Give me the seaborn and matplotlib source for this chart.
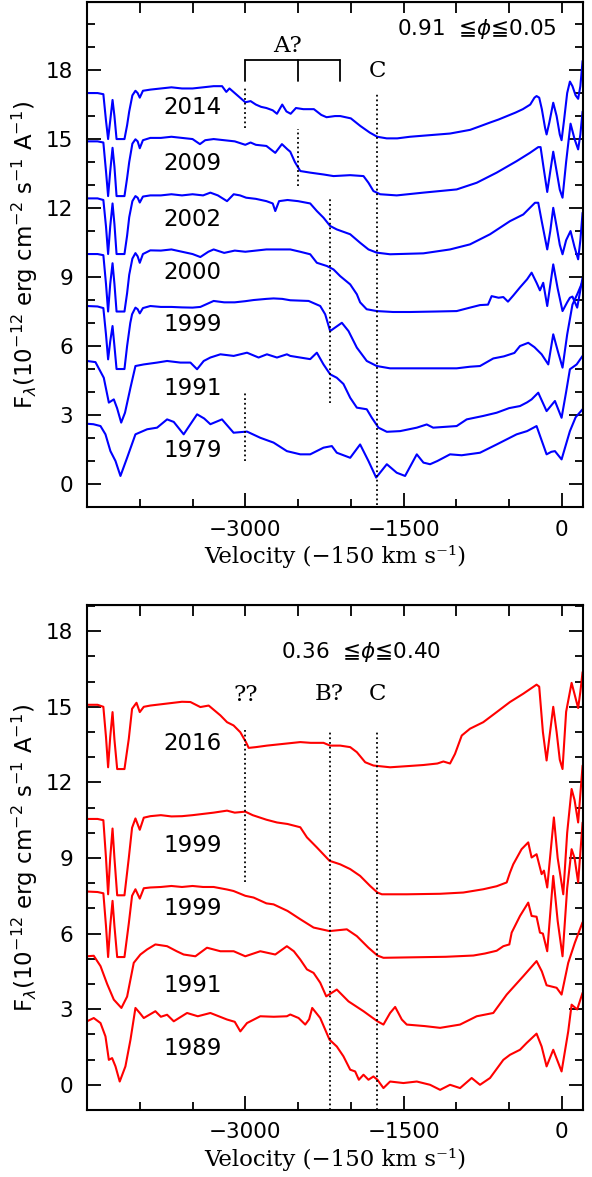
import numpy as np
import matplotlib
matplotlib.use('Agg')
import matplotlib.pyplot as plt
import seaborn as sns
from matplotlib.ticker import MultipleLocator, FixedLocator

sns.set_style('ticks')
plt.rcParams['font.family'] = ['DejaVu Sans']
plt.rcParams['mathtext.fontset'] = 'dejavusans'
for k in ['text.color', 'axes.labelcolor', 'xtick.color', 'ytick.color', 'axes.edgecolor']:
    plt.rcParams[k] = 'black'

# ---------------- data: top panel (0.91 <= phi <= 0.05) ----------------
top_2014 = [(-4500,17.0),(-4400,17.0),(-4345,16.95),(-4320,15.8),(-4300,15.0),(-4280,15.8),(-4258,16.7),(-4240,16.0),
            (-4220,15.0),(-4145,15.0),(-4120,15.6),(-4100,16.2),(-4070,16.9),(-4041,17.1),(-4020,17.0),(-4000,16.8),
            (-3970,17.1),(-3900,17.15),(-3800,17.2),(-3700,17.25),(-3600,17.2),(-3500,17.2),(-3400,17.25),(-3300,17.3),
            (-3220,17.3),(-3180,17.05),(-3150,17.2),(-3100,17.0),(-3050,16.8),(-3000,16.6),(-2950,16.65),(-2900,16.5),
            (-2850,16.4),(-2800,16.35),(-2740,16.25),(-2700,16.1),(-2650,16.5),(-2610,16.2),(-2570,16.1),(-2520,16.35),
            (-2450,16.3),(-2350,16.3),(-2280,16.05),(-2230,15.95),(-2150,16.0),(-2100,16.0),(-2050,15.95),(-2000,15.9),
            (-1910,15.57),(-1820,15.28),(-1750,15.1),(-1660,15.03),(-1560,15.03),(-1440,15.1),(-1250,15.17),(-1060,15.24),
            (-870,15.4),(-780,15.55),(-680,15.72),(-600,15.85),(-520,16.0),(-440,16.15),(-370,16.3),(-300,16.5),
            (-260,16.8),(-240,16.87),(-215,16.8),(-190,16.3),(-160,15.5),(-145,15.2),(-120,15.7),(-82,16.58),
            (-50,16.0),(-20,15.2),(-3,14.95),(20,15.8),(50,17.0),(76,17.5),(100,17.3),(130,16.9),(154,16.75),
            (175,17.3),(196,18.4)]
top_2009 = [(-4500,14.9),(-4400,14.9),(-4345,14.85),(-4320,13.6),(-4300,12.52),(-4280,13.6),(-4258,14.62),(-4240,13.8),
            (-4220,12.52),(-4145,12.52),(-4120,13.3),(-4100,14.0),(-4070,14.8),(-4041,14.99),(-4020,14.9),(-4000,14.6),
            (-3970,14.95),(-3900,15.05),(-3800,15.05),(-3700,15.1),(-3600,15.05),(-3500,15.0),(-3430,14.78),(-3380,14.95),
            (-3300,15.0),(-3200,14.95),(-3100,14.9),(-3000,14.75),(-2950,14.85),(-2900,14.75),(-2800,14.7),(-2716,14.4),
            (-2653,14.78),(-2600,14.55),(-2574,14.45),(-2530,14.0),(-2479,13.61),(-2385,13.54),(-2259,13.46),(-2164,13.39),
            (-2006,13.43),(-1880,13.39),(-1833,13.1),(-1786,12.74),(-1722,12.6),(-1565,12.55),(-1313,12.67),(-997,12.81),
            (-807,13.1),(-618,13.54),(-429,14.04),(-303,14.4),(-224,14.65),(-202,14.65),(-175,13.8),(-139,12.7),
            (-110,13.6),(-82,14.45),(-50,13.6),(-20,12.8),(6,12.45),(40,14.0),(82,15.67),(120,15.0),(154,14.55),
            (175,15.2),(196,16.2)]
top_2002 = [(-4500,12.42),(-4400,12.42),(-4345,12.35),(-4320,11.2),(-4300,10.0),(-4280,11.2),(-4258,12.2),(-4240,11.3),
            (-4220,10.0),(-4145,10.0),(-4120,10.8),(-4100,11.6),(-4070,12.3),(-4041,12.52),(-4020,12.45),(-4000,12.24),
            (-3970,12.5),(-3900,12.55),(-3800,12.55),(-3700,12.6),(-3600,12.55),(-3500,12.6),(-3400,12.55),(-3331,12.67),
            (-3260,12.55),(-3173,12.3),(-3110,12.6),(-3050,12.55),(-2992,12.45),(-2900,12.4),(-2800,12.3),(-2740,12.2),
            (-2716,11.87),(-2680,12.3),(-2600,12.35),(-2500,12.3),(-2385,12.2),(-2322,11.87),(-2259,11.58),(-2196,11.22),
            (-2133,11.07),(-2006,10.86),(-1912,10.49),(-1833,10.2),(-1754,10.06),(-1628,9.99),(-1313,10.03),(-1060,10.2),
            (-871,10.42),(-681,10.86),(-492,11.43),(-366,11.72),(-255,12.23),(-224,12.23),(-190,11.4),(-139,10.2),
            (-110,11.0),(-82,12.01),(-50,11.2),(-20,10.4),(6,9.99),(40,10.6),(82,11.0),(120,10.3),(154,9.77),
            (175,10.6),(196,11.8)]
top_2000 = [(-4500,10.0),(-4400,10.0),(-4345,9.95),(-4320,8.7),(-4300,7.5),(-4280,8.7),(-4258,9.6),(-4240,8.7),
            (-4220,7.5),(-4145,7.5),(-4120,8.3),(-4100,9.1),(-4070,9.8),(-4041,10.04),(-4020,9.9),(-4000,9.62),
            (-3970,10.0),(-3900,10.16),(-3800,10.15),(-3700,10.2),(-3600,10.1),(-3500,10.0),(-3426,9.87),(-3350,10.1),
            (-3300,10.2),(-3200,10.05),(-3100,10.15),(-3000,10.1),(-2900,10.15),(-2800,10.2),(-2650,10.2),(-2574,10.2),
            (-2480,10.1),(-2385,9.99),(-2322,9.62),(-2227,9.48),(-2164,9.33),(-2101,9.04),(-2006,8.68),(-1943,8.25),
            (-1912,7.9),(-1850,7.6),(-1754,7.52),(-1600,7.48),(-1438,7.48),(-1200,7.5),(-997,7.52),(-871,7.67),
            (-776,7.78),(-700,7.8),(-666,8.17),(-600,8.1),(-555,8.13),(-511,7.93),(-460,8.2),(-397,8.55),
            (-330,8.9),(-287,9.19),(-240,8.75),(-208,8.42),(-177,8.75),(-139,7.74),(-82,9.55),(-40,8.5),
            (6,7.52),(50,7.9),(76,8.1),(100,8.15),(145,7.67),(196,8.97)]
top_1999 = [(-4500,7.74),(-4400,7.72),(-4345,7.65),(-4320,6.5),(-4300,5.42),(-4280,6.2),(-4258,6.87),(-4240,6.0),
            (-4220,5.0),(-4145,5.0),(-4120,6.0),(-4090,7.0),(-4073,7.38),(-4041,7.67),(-4020,7.6),(-4000,7.42),
            (-3970,7.65),(-3900,7.74),(-3800,7.7),(-3700,7.7),(-3600,7.68),(-3500,7.67),(-3426,7.7),(-3300,7.96),
            (-3200,7.9),(-3100,7.9),(-3000,7.95),(-2921,8.0),(-2800,8.05),(-2732,8.07),(-2650,8.05),(-2574,7.99),
            (-2400,7.96),(-2290,7.74),(-2243,7.38),(-2196,6.65),(-2150,6.8),(-2085,7.01),(-2022,6.65),(-1943,5.93),
            (-1849,5.35),(-1754,5.13),(-1628,5.03),(-1313,5.03),(-997,5.03),(-871,5.1),(-776,5.13),(-650,5.46),
            (-550,5.55),(-450,5.7),(-397,6.0),(-319,6.14),(-260,5.95),(-192,5.64),(-129,5.2),(-82,6.51),
            (-40,5.8),(6,5.06),(50,6.5),(100,7.8),(150,8.3),(196,8.8)]
top_1991 = [(-4500,5.35),(-4420,5.3),(-4341,4.62),(-4293,3.54),(-4246,3.68),(-4215,3.3),(-4176,2.67),(-4140,3.1),
            (-4088,4.19),(-4041,5.13),(-3962,5.2),(-3836,5.28),(-3741,5.35),(-3615,5.28),(-3520,5.28),(-3457,4.99),
            (-3394,5.35),(-3331,5.5),(-3236,5.64),(-3110,5.57),(-2984,5.71),(-2874,5.5),(-2795,5.64),(-2700,5.5),
            (-2606,5.64),(-2574,5.57),(-2480,5.5),(-2385,5.43),(-2322,5.71),(-2259,5.2),(-2196,4.77),(-2133,4.62),
            (-2070,4.35),(-2006,3.75),(-1943,3.32),(-1849,3.25),(-1801,2.88),(-1738,2.45),(-1659,2.27),(-1533,2.3),
            (-1375,2.45),(-1281,2.59),(-1220,2.45),(-997,2.52),(-902,2.81),(-745,2.96),(-618,3.1),(-500,3.3),
            (-397,3.39),(-330,3.55),(-287,3.68),(-224,3.97),(-145,3.17),(-66,3.61),(-3,2.88),(40,4.0),
            (76,4.99),(140,5.2),(196,5.57)]
top_1979 = [(-4500,2.62),(-4440,2.6),(-4372,2.52),(-4325,2.16),(-4278,1.43),(-4230,1.0),(-4183,0.35),(-4120,1.14),
            (-4041,2.16),(-3930,2.38),(-3836,2.45),(-3741,2.81),(-3678,2.7),(-3584,2.16),(-3520,2.6),(-3457,3.03),
            (-3390,2.85),(-3331,2.6),(-3221,2.81),(-3111,2.23),(-2984,2.28),(-2858,2.01),(-2732,1.8),(-2606,1.43),
            (-2479,1.29),(-2385,1.29),(-2259,1.58),(-2180,1.65),(-2133,1.36),(-2006,1.14),(-1912,1.72),(-1833,1.0),
            (-1760,0.28),(-1659,0.86),(-1565,0.49),(-1486,0.35),(-1375,1.29),(-1312,0.93),(-1249,0.86),(-1180,1.0),
            (-1060,1.29),(-950,1.25),(-776,1.36),(-618,1.72),(-429,2.16),(-330,2.3),(-240,2.52),(-200,2.0),
            (-145,1.29),(-100,1.4),(-66,1.43),(-3,1.07),(76,2.3),(130,2.9),(196,3.25)]

top_years = ['2014', '2009', '2002', '2000', '1999', '1991', '1979']
top_year_y = [16.39, 13.94, 11.51, 9.19, 6.94, 4.16, 1.46]
top_spectra = [top_2014, top_2009, top_2002, top_2000, top_1999, top_1991, top_1979]

# ---------------- data: bottom panel (0.36 <= phi <= 0.40) ----------------
bot_2016 = [(-4500,15.08),(-4400,15.08),(-4345,15.0),(-4320,13.8),(-4300,12.6),(-4280,13.8),(-4258,14.79),(-4240,13.7),
            (-4214,12.53),(-4145,12.53),(-4104,13.73),(-4073,14.92),(-4031,15.16),(-4000,14.79),(-3962,15.0),(-3900,15.05),
            (-3800,15.1),(-3700,15.15),(-3600,15.2),(-3520,15.19),(-3426,14.99),(-3347,15.05),(-3236,14.66),(-3173,14.39),
            (-3111,14.26),(-3047,13.99),(-2994,13.6),(-2968,13.37),(-2900,13.4),(-2795,13.46),(-2637,13.53),(-2479,13.6),
            (-2380,13.57),(-2259,13.57),(-2196,13.46),(-2101,13.46),(-2006,13.4),(-1943,13.2),(-1864,12.8),(-1786,12.67),
            (-1628,12.6),(-1450,12.65),(-1313,12.69),(-1180,12.75),(-1123,12.83),(-1060,12.75),(-1013,13.13),(-949,13.86),
            (-871,14.13),(-745,14.39),(-618,14.79),(-492,15.19),(-366,15.52),(-240,15.88),(-215,15.8),(-180,14.0),
            (-145,12.87),(-115,13.9),(-82,15.0),(-50,14.0),(-20,12.9),(6,12.53),(40,14.8),(92,15.95),
            (120,15.5),(154,14.95),(175,15.6),(196,16.38)]
bot_1999a = [(-4500,10.55),(-4400,10.55),(-4345,10.5),(-4320,9.0),(-4300,7.56),(-4280,9.0),(-4258,10.17),(-4240,9.0),
             (-4214,7.52),(-4145,7.52),(-4104,9.0),(-4073,10.2),(-4041,10.57),(-4000,10.12),(-3962,10.6),(-3900,10.66),
             (-3800,10.7),(-3700,10.65),(-3600,10.66),(-3500,10.7),(-3400,10.75),(-3300,10.8),(-3173,10.88),(-3100,10.8),
             (-3000,10.84),(-2930,10.7),(-2800,10.52),(-2700,10.41),(-2600,10.35),(-2479,10.22),(-2416,9.82),(-2322,9.42),
             (-2202,8.89),(-2101,8.75),(-2006,8.56),(-1912,8.29),(-1817,7.89),(-1748,7.63),(-1706,7.56),(-1470,7.56),
             (-1154,7.58),(-934,7.63),(-745,7.76),(-618,7.88),(-523,8.03),(-492,8.42),(-461,8.75),(-382,9.35),
             (-319,9.62),(-287,9.02),(-240,9.15),(-192,8.36),(-170,8.5),(-139,7.83),(-76,10.61),(-40,9.0),
             (13,7.56),(50,10.0),(92,11.74),(120,11.3),(154,10.41),(196,12.67)]
bot_1999b = [(-4500,7.67),(-4400,7.65),(-4345,7.6),(-4320,6.3),(-4300,5.07),(-4280,6.3),(-4258,7.3),(-4240,6.3),
             (-4214,5.07),(-4145,5.07),(-4104,6.4),(-4073,7.5),(-4041,7.76),(-4000,7.39),(-3962,7.8),(-3900,7.83),
             (-3800,7.85),(-3700,7.89),(-3600,7.85),(-3500,7.89),(-3400,7.85),(-3300,7.85),(-3173,7.75),(-3111,7.69),
             (-3000,7.5),(-2921,7.43),(-2800,7.2),(-2732,7.16),(-2600,6.9),(-2574,6.83),(-2479,6.57),(-2353,6.24),
             (-2202,6.1),(-2038,6.17),(-1943,5.9),(-1833,5.44),(-1748,5.13),(-1691,5.04),(-1400,5.06),(-1100,5.08),
             (-839,5.13),(-729,5.21),(-618,5.32),(-555,5.5),(-498,5.57),(-476,6.04),(-397,6.7),(-319,7.23),
             (-287,6.7),(-240,6.67),(-208,6.04),(-180,6.0),(-139,5.3),(-82,8.29),(-40,6.5),(6,5.1),
             (50,7.8),(92,9.35),(120,9.0),(154,8.03),(196,10.41)]
bot_1991 = [(-4500,5.1),(-4436,5.12),(-4372,4.71),(-4309,4.0),(-4246,3.38),(-4174,3.05),(-4120,3.5),(-4057,4.84),
            (-3994,5.17),(-3931,5.37),(-3852,5.57),(-3741,5.5),(-3650,5.3),(-3584,5.17),(-3473,5.1),(-3363,5.44),
            (-3236,5.3),(-3110,5.3),(-3000,5.1),(-2858,5.3),(-2716,5.17),(-2606,5.5),(-2540,5.3),(-2479,4.97),
            (-2416,4.58),(-2353,4.44),(-2290,4.05),(-2233,3.51),(-2133,3.78),(-2022,3.31),(-1880,2.92),(-1748,2.52),
            (-1691,2.39),(-1628,2.85),(-1580,3.09),(-1517,2.59),(-1470,2.39),(-1300,2.33),(-1154,2.26),(-965,2.39),
            (-807,2.72),(-650,2.85),(-523,3.58),(-366,4.31),(-240,4.91),(-190,4.5),(-145,3.95),(-50,3.85),
            (-3,3.58),(60,4.84),(123,5.64),(196,6.45)]
bot_1989 = [(-4500,2.52),(-4436,2.65),(-4372,2.45),(-4325,1.92),(-4293,0.99),(-4262,1.06),(-4230,0.73),(-4190,0.13),
            (-4136,0.73),(-4088,1.79),(-4041,3.05),(-4000,2.85),(-3962,2.65),(-3852,2.92),(-3800,2.7),(-3741,2.78),
            (-3678,2.52),(-3552,2.85),(-3450,2.72),(-3331,2.85),(-3173,2.59),(-3100,2.5),(-3047,2.12),(-2984,2.45),
            (-2858,2.72),(-2730,2.7),(-2606,2.72),(-2574,2.79),(-2495,2.65),(-2432,2.39),(-2395,2.6),(-2366,3.05),
            (-2290,2.65),(-2202,1.79),(-2133,1.52),(-2070,1.13),(-2006,0.6),(-1959,0.53),(-1924,0.2),(-1880,0.4),
            (-1833,0.2),(-1786,0.33),(-1748,0.2),(-1691,-0.13),(-1628,0.13),(-1502,0.07),(-1375,0.13),(-1249,0.0),
            (-1154,-0.2),(-1060,0.0),(-965,-0.13),(-855,0.27),(-776,0.0),(-681,0.27),(-555,0.99),(-492,1.19),
            (-397,1.39),(-334,1.66),(-240,2.03),(-192,1.52),(-145,0.73),(-82,1.39),(-3,0.53),(60,2.12),
            (92,3.18),(145,2.99),(196,3.65)]

bot_years = ['2016', '1999', '1999', '1991', '1989']
bot_year_y = [13.53, 9.48, 6.99, 3.94, 1.46]
bot_spectra = [bot_2016, bot_1999a, bot_1999b, bot_1991, bot_1989]

# dotted marker lines: (velocity, y_low, y_high)
top_marks = [(-3000, 15.49, 17.26), (-3000, 1.0, 3.97), (-2500, 12.96, 15.42),
             (-2200, 3.54, 12.45), (-1750, -0.9, 16.94)]
bot_marks = [(-3000, 8.03, 14.06), (-2200, -1.0, 14.0), (-1750, -1.0, 14.0)]
# bracket "A?"
bracket_v = [-3000, -2500, -2100]
bracket_y = (17.52, 18.43)

top_phase = '0.91  \u2266$\\phi$\u22660.05'
bot_phase = '0.36  \u2266$\\phi$\u22660.40'

# ---------------- figure ----------------
W, H = 592, 1177
fig = plt.figure(figsize=(W / 100, H / 100), dpi=100)
ax1 = fig.add_axes([87 / W, 1 - 507 / H, 496 / W, 505 / H])
ax2 = fig.add_axes([87 / W, 1 - 1110 / H, 496 / W, 505 / H])

SERIF = 'DejaVu Serif'
FS = 15


def style(ax, ymax):
    ax.set_xlim(-4500, 200)
    ax.set_ylim(-1, ymax)
    ax.xaxis.set_major_locator(FixedLocator([-3000, -1500, 0]))
    ax.xaxis.set_minor_locator(MultipleLocator(500))
    ax.yaxis.set_major_locator(FixedLocator([0, 3, 6, 9, 12, 15, 18]))
    ax.yaxis.set_minor_locator(MultipleLocator(1))
    ax.tick_params(axis='both', which='major', direction='in', length=10, width=1.3,
                   labelsize=15.5, right=True, top=False, colors='black')
    ax.tick_params(axis='both', which='minor', direction='in', length=5.5, width=1.3,
                   right=True, top=False, colors='black')
    ax.tick_params(axis='x', which='major', pad=9)
    ax.tick_params(axis='y', which='major', pad=10)
    for s in ax.spines.values():
        s.set_linewidth(1.5)
        s.set_color('black')
        s.set_visible(True)
    sec = ax.secondary_xaxis('top')
    sec.set_xticks(np.arange(-4000, 1, 500))
    sec.tick_params(direction='in', length=8, width=1.3, labeltop=False, colors='black')
    sec.xaxis.set_minor_locator(FixedLocator([]))
    ax.set_xlabel('Velocity (\u2212150 km s\u207b\u00b9)', family=SERIF, fontsize=16.5, labelpad=4,
                  color='black')
    ax.set_ylabel(r'F$_{\lambda}$(10$^{-12}$ erg cm$^{-2}$ s$^{-1}$ A$^{-1}$)', fontsize=16.5,
                  labelpad=4, color='black')


for spec in top_spectra:
    v = [p[0] for p in spec]
    f = [p[1] for p in spec]
    sns.lineplot(x=v, y=f, ax=ax1, color='#0000ff', linewidth=1.5, sort=False, estimator=None)
for spec in bot_spectra:
    v = [p[0] for p in spec]
    f = [p[1] for p in spec]
    sns.lineplot(x=v, y=f, ax=ax2, color='#ff0000', linewidth=1.5, sort=False, estimator=None)

style(ax1, 20.96)
style(ax2, 19.04)

dot = dict(color='black', linestyle=(0, (1, 1.6)), linewidth=1.3)
for v, y0, y1 in top_marks:
    ax1.plot([v, v], [y0, y1], **dot)
for v, y0, y1 in bot_marks:
    ax2.plot([v, v], [y0, y1], **dot)

# bracket
ax1.plot([bracket_v[0], bracket_v[-1]], [bracket_y[1], bracket_y[1]], color='black', lw=1.3)
for v in bracket_v:
    ax1.plot([v, v], list(bracket_y), color='black', lw=1.3)

for lab, y in zip(top_years, top_year_y):
    ax1.text(-3500, y, lab, ha='center', va='center', fontsize=16.5, color='black')
for lab, y in zip(bot_years, bot_year_y):
    ax2.text(-3500, y, lab, ha='center', va='center', fontsize=16.5, color='black')

ax1.text(-2600, 19.04, 'A?', family=SERIF, ha='center', va='center', fontsize=16.5, color='black')
ax1.text(-1750, 17.96, 'C', family=SERIF, ha='center', va='center', fontsize=16.5, color='black')
ax1.text(-804, 19.78, top_phase, ha='center', va='center', fontsize=15.5, color='black')

ax2.text(-3000, 15.45, '??', family=SERIF, ha='center', va='center', fontsize=16.5, color='black')
ax2.text(-2200, 15.52, 'B?', family=SERIF, ha='center', va='center', fontsize=16.5, color='black')
ax2.text(-1750, 15.52, 'C', family=SERIF, ha='center', va='center', fontsize=16.5, color='black')
ax2.text(-1902, 17.18, bot_phase, ha='center', va='center', fontsize=15.5, color='black')

fig.savefig('out.png', dpi=100)
